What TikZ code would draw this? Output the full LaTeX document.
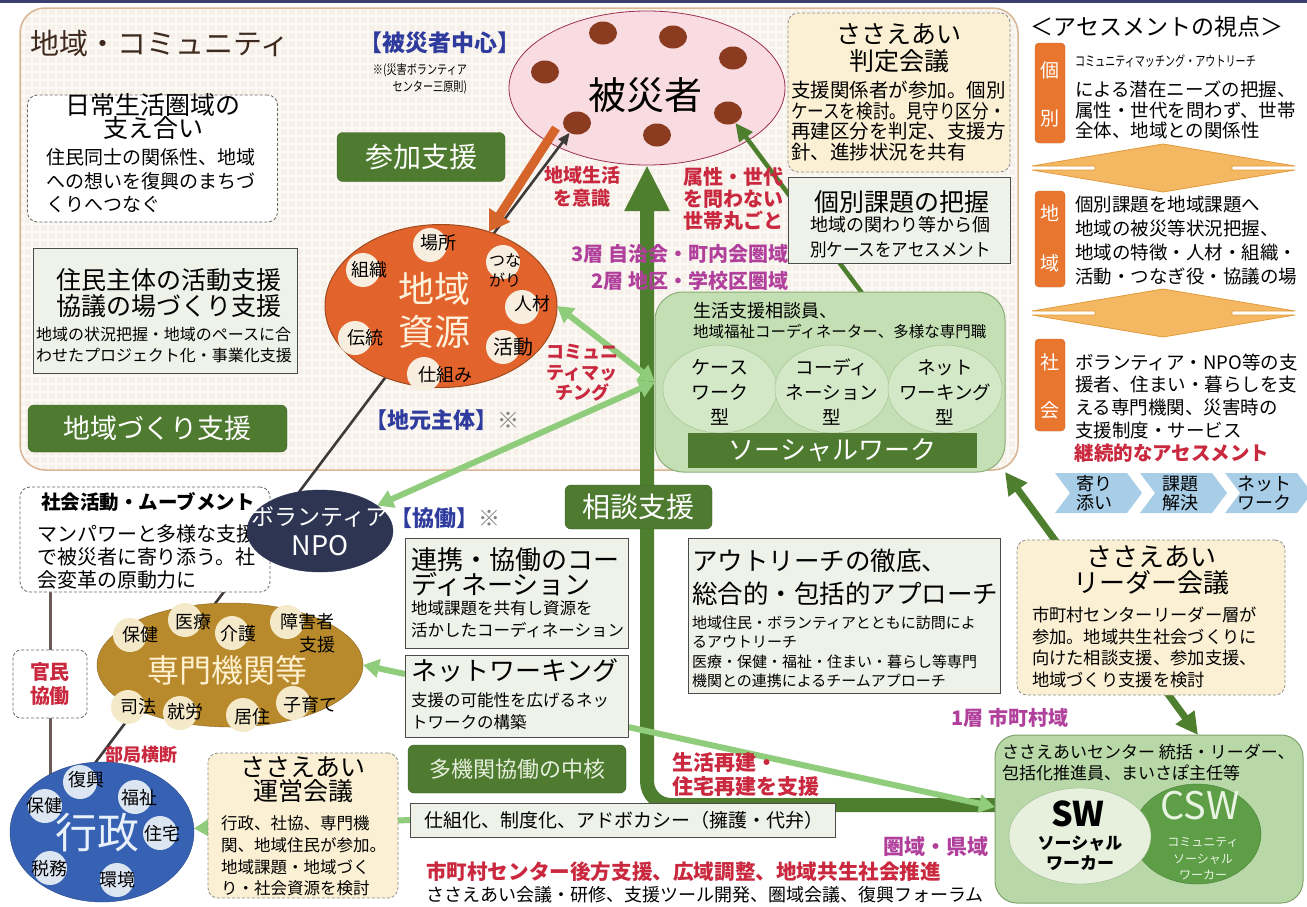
\documentclass[tikz,border=0pt]{standalone}
\usepackage{fontspec}
\usepackage{graphicx}
\setmainfont{Noto Sans CJK JP}
\usetikzlibrary{arrows.meta,shapes.geometric,calc}
\pgfdeclarelayer{back}\pgfdeclarelayer{bg}
\pgfsetlayers{back,bg,main}
\definecolor{navy}{HTML}{3B3F6E}
\definecolor{commF}{HTML}{F7F0E9}
\definecolor{commB}{HTML}{D9B594}
\definecolor{dgreen}{HTML}{4E7B2F}
\definecolor{gtext}{HTML}{E6EEDC}
\definecolor{lgreen}{HTML}{8FCC7B}
\definecolor{agreen}{HTML}{4E7F2E}
\definecolor{greyF}{HTML}{EEF2E9}
\definecolor{creamF}{HTML}{FBF0D3}
\definecolor{pinkF}{HTML}{F9DCE2}
\definecolor{hisaiB}{HTML}{9C3050}
\definecolor{dotC}{HTML}{8A3B20}
\definecolor{orangeF}{HTML}{E2632B}
\definecolor{shigenB}{HTML}{A04A1E}
\definecolor{shigenT}{HTML}{FFF2DC}
\definecolor{circF}{HTML}{F8EEDF}
\definecolor{npoF}{HTML}{2D3552}
\definecolor{senF}{HTML}{B98A2C}
\definecolor{senB}{HTML}{8A6420}
\definecolor{senC}{HTML}{F4E9C9}
\definecolor{senT}{HTML}{FFF1D0}
\definecolor{gyoF}{HTML}{3762B4}
\definecolor{gyoB}{HTML}{27488A}
\definecolor{gyoC}{HTML}{DCE5F2}
\definecolor{gyoT}{HTML}{E8F0FA}
\definecolor{swF}{HTML}{C3DFB3}
\definecolor{swB}{HTML}{8BAE78}
\definecolor{swcirc}{HTML}{D6EACB}
\definecolor{swcircB}{HTML}{9FBF8E}
\definecolor{swcF}{HTML}{B8D8A7}
\definecolor{swcB}{HTML}{7FA36D}
\definecolor{swlF}{HTML}{E6F0DD}
\definecolor{swlB}{HTML}{9AB68A}
\definecolor{cswF}{HTML}{5D9E47}
\definecolor{cswT}{HTML}{E9F3E2}
\definecolor{redT}{HTML}{C9283E}
\definecolor{purT}{HTML}{B0409B}
\definecolor{bluT}{HTML}{2F3C9E}
\definecolor{tabF}{HTML}{E8762E}
\definecolor{diaF}{HTML}{F5B862}
\definecolor{diaB}{HTML}{E29A3C}
\definecolor{chevF}{HTML}{A8CDE6}
\definecolor{lineC}{HTML}{3F3A3A}
\definecolor{orangeA}{HTML}{D6652C}
\definecolor{ttlC}{HTML}{3E2A1E}
\definecolor{vC}{HTML}{6B5B55}
\newcommand\fz[2]{\fontsize{#1}{#2}\selectfont}
\newcommand\hs[2]{\scalebox{#1}[1]{#2}}
\tikzset{
 every node/.style={inner sep=0pt,outer sep=0pt},
 gbox/.style={draw=dgreen!80!black, fill=dgreen, rounded corners=6pt, text=white},
 pbox/.style={draw=black!70, fill=greyF, line width=0.8pt},
 cbox/.style={draw=black!45, fill=creamF, densely dashed, rounded corners=10pt, line width=0.8pt},
 wbox/.style={draw=black!60, fill=white, densely dashed, rounded corners=10pt, line width=0.8pt},
 dotS/.style={ellipse, fill=dotC, minimum width=28pt, minimum height=23pt},
 bub/.style={circle, fill=#1, minimum size=34pt},
 lbl/.style={font={\fz{18}{20}}},
 tabS/.style={fill=tabF, draw=tabF!85!black, rounded corners=4pt, minimum width=30pt},
 tabT/.style={font={\fz{19}{20}}, text=white},
 blk/.style={draw=lineC, line width=2.6pt, -{Triangle[width=10pt,length=12pt]}},
 orA/.style={draw=orangeA, line width=9pt, -{Triangle[width=24pt,length=20pt]}},
 thinG/.style={draw=agreen, line width=4.5pt, -{Triangle[width=16pt,length=18pt]}},
 bigA/.style={draw=agreen, line width=14pt, rounded corners=24pt, -{Triangle[width=42pt,length=46pt]}},
 lg/.style={draw=lgreen, line width=6pt},
 lgT/.style={-{Triangle[width=18pt,length=16pt]}},
 lgTT/.style={{Triangle[width=18pt,length=16pt]}-{Triangle[width=18pt,length=16pt]}},
 agA/.style={draw=agreen, line width=7pt, {Triangle[width=22pt,length=22pt]}-{Triangle[width=22pt,length=22pt]}},
 vline/.style={draw=vC, line width=3pt},
}
\begin{document}
\begin{tikzpicture}[x=1pt,y=-1pt]
\useasboundingbox (0,0) rectangle (1307,906);
\begin{pgfonlayer}{back}
\fill[white] (0,0) rectangle (1307,906);
\fill[navy] (0,0) rectangle (1307,3);
\node[draw=commB, fill=commF, line width=1.5pt, rounded corners=25pt, minimum width=998pt, minimum height=462pt] (comm) at (519,239) {};
\begin{scope}
\clip[rounded corners=25pt] (21,9) rectangle (1017,469);
\draw[white, line width=2pt, opacity=0.6, step=8pt] (20,8) grid (1018,470);
\end{scope}
\node[ellipse, draw=hisaiB, fill=pinkF, line width=0.8pt, minimum width=276pt, minimum height=154pt] (hisai) at (647,88) {};
\foreach \n/\x/\y in {1/603/33,2/673/37,3/733/58,4/545/72,5/728/113,6/577/123,7/657/135}
  \node[dotS] (d\n) at (\x,\y) {};
\end{pgfonlayer}

% ---------- top ----------
\node[font={\fz{29}{32}}, text=ttlC] (ttl) at (160,43) {地域・コミュニティ};
\node[font={\fz{23}{26}\bfseries}, text=bluT] (hcen) at (440,43) {【被災者中心】};
\node[font={\fz{13}{17}}, align=right] (hnote) at (420,79) {\hs{0.78}{※(災害ボランティア}\\\hs{0.78}{センター三原則)}};
\node[font={\fz{38}{40}}] (hisaiT) at (645,95) {被災者};

\node[gbox, minimum width=168pt, minimum height=49pt, font={\fz{28}{30}}] (sanka) at (421,157) {参加支援};

\node[wbox, minimum width=250pt, minimum height=127pt] (nichi) at (152.5,158.5) {};
\node[align=center, font={\fz{25}{23}}] (nichiT) at (153,117) {日常生活圏域の\\支え合い};
\node[anchor=west, align=left, font={\fz{19}{23.5}}] (nichiB) at (46,181) {住民同士の関係性、地域\\への想いを復興のまちづ\\くりへつなぐ};

\node[pbox, minimum width=264pt, minimum height=125pt] (jumin) at (165,310.5) {};
\node[align=center, font={\fz{25}{26}}] (juminT) at (169,293) {住民主体の活動支援\\協議の場づくり支援};
\node[anchor=west, align=left, font={\fz{16}{21}}] (juminB) at (36,344.5) {地域の状況把握・地域のペースに合\\わせたプロジェクト化・事業化支援};

\node[gbox, minimum width=259pt, minimum height=47pt, font={\fz{27}{30}}] (zukuri) at (157.5,428.5) {地域づくり支援};

% 地域資源
\node[ellipse, draw=shigenB, fill=orangeF, line width=1pt, minimum width=232pt, minimum height=163pt] (shigen) at (441,306) {};
\node[bub=circF] (bBasho) at (430,245) {};
\node[bub=circF] (bSoshiki) at (363,270) {};
\node[bub=circF] (bTsuna) at (503,262) {};
\node[bub=circF] (bJinzai) at (522,307) {};
\node[bub=circF] (bDento) at (355,338) {};
\node[bub=circF] (bKatsu) at (503,347) {};
\node[bub=circF] (bShikumi) at (424,374) {};
\node[lbl] (tBasho) at (438,243) {場所};
\node[lbl] (tSoshiki) at (369,270) {組織};
\node[align=center, font={\fz{16}{20}}] (tTsuna) at (505,270) {つな\\がり};
\node[lbl] (tJinzai) at (532,304) {人材};
\node[lbl] (tDento) at (365,338) {伝統};
\node[font={\fz{20}{22}}] (tKatsu) at (513,347) {活動};
\node[lbl] (tShikumi) at (445,375) {仕組み};
\node[font={\fz{36}{43}}, align=center, text=shigenT] (shigenTx) at (434,310) {地域\\資源};
\node[font={\fz{22}{24}\bfseries}, text=bluT] (jimoto) at (442,420) {【地元主体】\textcolor{gray}{※}};

\node[anchor=east, font={\fz{20}{22}\bfseries}, text=purT] (sou3) at (788,254) {3層 自治会・町内会圏域};
\node[anchor=east, font={\fz{20}{22}\bfseries}, text=purT] (sou2) at (788,281) {2層 地区・学校区圏域};

% ソーシャルワーク
\node[draw=swB, fill=swF, rounded corners=28pt, line width=1pt, minimum width=350pt, minimum height=180pt] (swbox) at (830,382) {};
\node[anchor=west, font={\fz{18}{20}}] (swboxT1) at (693,311) {生活支援相談員、};
\node[anchor=west, font={\fz{15.5}{20}}] (swboxT2) at (693,332) {地域福祉コーディネーター、多様な専門職};
\node[ellipse, draw=swcircB, fill=swcirc, fill opacity=0.85, minimum width=114pt, minimum height=88pt] (cw) at (720,389) {};
\node[ellipse, draw=swcircB, fill=swcirc, fill opacity=0.85, minimum width=114pt, minimum height=88pt] (cd) at (832,389) {};
\node[ellipse, draw=swcircB, fill=swcirc, fill opacity=0.85, minimum width=114pt, minimum height=88pt] (cn) at (945,389) {};
\node[align=center, font={\fz{19}{25}}] (cwT) at (720,392) {ケース\\ワーク\\型};
\node[align=center, font={\fz{18.5}{25}}] (cdT) at (832,392) {コーディ\\ネーション\\型};
\node[align=center, font={\fz{18.5}{25}}] (cnT) at (945,392) {ネット\\ワーキング\\型};
\node[fill=dgreen, minimum width=289pt, minimum height=35pt, text=white, font={\fz{26}{28}}] (swbar) at (832.5,450.5) {ソーシャルワーク};

\node[align=center, font={\fz{18}{20.5}\bfseries}, text=redT] (cmT) at (582,373) {コミュニ\\ティマッ\\チング};
\node[align=center, font={\fz{19}{23}\bfseries}, text=redT] (ishiki) at (582,187) {地域生活\\を意識};
\node[anchor=west, align=left, font={\fz{20}{22}\bfseries}, text=redT] (setai) at (683,199) {属性・世代\\を問わない\\世帯丸ごと};

% 判定会議 / 個別課題
\node[cbox, minimum width=222pt, minimum height=159pt] (hantei) at (899,92.5) {};
\node[align=center, font={\fz{25}{27}}] (hanteiT) at (899,48) {ささえあい\\判定会議};
\node[anchor=west, align=left, font={\fz{19.5}{20.7}}] (hanteiB) at (791,121) {支援関係者が参加。個別\\\hs{0.85}{ケースを検討。見守り区分・}\\再建区分を判定、支援方\\針、進捗状況を共有};
\node[pbox, minimum width=222pt, minimum height=86pt] (kobetsu) at (899,220) {};
\node[font={\fz{25}{27}}] (kobetsuT) at (902,202) {個別課題の把握};
\node[anchor=west, align=left, font={\fz{18}{25}}] (kobetsuB) at (810,237) {地域の関わり等から個\\\hs{0.92}{別ケースをアセスメント}};

% アセスメント
\node[font={\fz{23}{25}}] (asT) at (1157,27) {＜アセスメントの視点＞};
\node[tabS, minimum height=100pt] (tab1) at (1050,93) {};
\node[tabS, minimum height=96pt] (tab2) at (1050,239) {};
\node[tabS, minimum height=92pt] (tab3) at (1050,385) {};
\node[tabT] (tab1a) at (1050,70) {個};
\node[tabT] (tab1b) at (1050,118) {別};
\node[tabT] (tab2a) at (1050,213) {地};
\node[tabT] (tab2b) at (1050,263) {域};
\node[tabT] (tab3a) at (1050,362) {社};
\node[tabT] (tab3b) at (1050,410) {会};
\node[anchor=west, font={\fz{14}{16}}] (as1a) at (1075,61) {\hs{0.72}{コミュニティマッチング・アウトリーチ}};
\node[anchor=west, align=left, font={\fz{18.5}{20.5}}] (as1b) at (1075,110) {による潜在ニーズの把握、\\属性・世代を問わず、世帯\\全体、地域との関係性};
\node[anchor=west, align=left, font={\fz{18.5}{24}}] (as2) at (1075,241) {個別課題を地域課題へ\\地域の被災等状況把握、\\地域の特徴・人材・組織・\\活動・つなぎ役・協議の場};
\node[anchor=west, align=left, font={\fz{18.5}{22.7}}] (as3) at (1075,396) {ボランティア・NPO等の支\\援者、住まい・暮らしを支\\える専門機関、災害時の\\支援制度・サービス};
\foreach \c in {168,313}
  \filldraw[fill=diaF, draw=diaB, line width=0.8pt] (1032,\c-2) -- (1163,\c-24) -- (1295,\c-2) -- (1232,\c-2) -- (1232,\c+2) -- (1295,\c+2) -- (1163,\c+24) -- (1032,\c+2) -- (1095,\c+2) -- (1095,\c-2) -- cycle;
\node[font={\fz{19.5}{22}\bfseries}, text=redT] (keizoku) at (1172,453) {継続的なアセスメント};
\foreach \x in {1055,1140,1225}
  \fill[chevF] (\x,473) -- (\x+72,473) -- (\x+87,493) -- (\x+72,513) -- (\x,513) -- (\x+15,493) -- cycle;
\node[align=center, font={\fz{18}{19}}] (chev1) at (1094,493) {寄り\\添い};
\node[align=center, font={\fz{18}{19}}] (chev2) at (1180,493) {課題\\解決};
\node[align=center, font={\fz{18}{19}}] (chev3) at (1264,493) {ネット\\ワーク};

% 社会活動 / NPO
\node[wbox, minimum width=250pt, minimum height=105pt] (shakai) at (145,539.5) {};
\node[font={\fz{19.5}{22}\bfseries}] (shakaiT) at (148,502) {社会活動・ムーブメント};
\node[anchor=west, align=left, font={\fz{20}{23}}] (shakaiB) at (37,557) {マンパワーと多様な支援\\で被災者に寄り添う。社\\会変革の原動力に};
\node[ellipse, fill=npoF, draw=npoF, minimum width=146pt, minimum height=82pt] (npo) at (320,531) {};
\node[align=center, text=white, font={\fz{23}{30}}] (npoT) at (320,531) {ボランティア\\{\fz{27}{30}NPO}};
\node[font={\fz{22}{24}\bfseries}, text=bluT] (kyodo) at (445,518) {【協働】\textcolor{gray}{※}};

% 専門機関等
\node[ellipse, fill=senF, draw=senB, minimum width=266pt, minimum height=124pt] (senmon) at (230,665) {};
\node[bub=senC] (sb1) at (130,635) {};
\node[bub=senC] (sb2) at (185,620) {};
\node[bub=senC] (sb3) at (232,633) {};
\node[bub=senC] (sb4) at (287,622) {};
\node[bub=senC] (sb5) at (128,707) {};
\node[bub=senC] (sb6) at (180,713) {};
\node[bub=senC] (sb7) at (243,715) {};
\node[bub=senC] (sb8) at (293,703) {};
\node[lbl] (st1) at (140,635) {保健};
\node[lbl] (st2) at (193,622) {医療};
\node[lbl] (st3) at (238,634) {介護};
\node[lbl] (st4) at (307,622) {障害者};
\node[lbl] (st4b) at (317,645) {支援};
\node[lbl] (st5) at (138,707) {司法};
\node[lbl] (st6) at (185,712) {就労};
\node[lbl] (st7) at (252,717) {居住};
\node[lbl] (st8) at (310,705) {子育て};
\node[font={\fz{32}{34}}, text=senT] (senmonT) at (227,670) {専門機関等};

\node[wbox, rounded corners=8pt, minimum width=74pt, minimum height=68pt] (kanmin) at (50,684) {};
\node[align=center, font={\fz{20}{24}\bfseries}, text=redT] (kanminT) at (50,684) {官民\\協働};
\node[font={\fz{18}{20}\bfseries}, text=redT] (bukyoku) at (141,755) {部局横断};

% 行政
\node[ellipse, fill=gyoF, draw=gyoB, minimum width=184pt, minimum height=140pt] (gyosei) at (102,832) {};
\node[bub=gyoC] (gb1) at (80,782) {};
\node[bub=gyoC] (gb2) at (135,797) {};
\node[bub=gyoC] (gb3) at (45,806) {};
\node[bub=gyoC] (gb4) at (160,833) {};
\node[bub=gyoC] (gb5) at (50,868) {};
\node[bub=gyoC] (gb6) at (117,880) {};
\node[lbl] (gt1) at (86,780) {復興};
\node[lbl] (gt2) at (139,798) {福祉};
\node[lbl] (gt3) at (45,806) {保健};
\node[lbl] (gt4) at (162,834) {住宅};
\node[lbl] (gt5) at (49,869) {税務};
\node[lbl] (gt6) at (117,880) {環境};
\node[font={\fz{42}{44}}, text=gyoT] (gyoseiT) at (97,833) {行政};

\node[cbox, minimum width=190pt, minimum height=145pt] (unei) at (303,825.5) {};
\node[align=center, font={\fz{25}{24}}] (uneiT) at (303,780) {ささえあい\\運営会議};
\node[anchor=west, align=left, font={\fz{16.5}{21.7}}] (uneiB) at (221,856) {行政、社協、専門機\\関、地域住民が参加。\\地域課題・地域づく\\り・社会資源を検討};

% middle
\node[gbox, minimum width=147pt, minimum height=44pt, font={\fz{28}{30}}] (sodan) at (638.5,507) {相談支援};
\node[pbox, minimum width=223pt, minimum height=110pt] (renkei) at (516.5,593) {};
\node[anchor=west, align=left, font={\fz{26}{25}}] (renkeiT) at (411,572) {連携・協働のコー\\ディネーション};
\node[anchor=west, align=left, font={\fz{16.5}{22}}] (renkeiB) at (411,619) {地域課題を共有し資源を\\活かしたコーディネーション};
\node[pbox, minimum width=223pt, minimum height=82pt] (network) at (516.5,696) {};
\node[anchor=west, font={\fz{26}{28}}] (networkT) at (411,671) {ネットワーキング};
\node[anchor=west, align=left, font={\fz{16.5}{22}}] (networkB) at (411,711) {支援の可能性を広げるネッ\\トワークの構築};
\node[gbox, minimum width=218pt, minimum height=48pt, font={\fz{22}{24}}, text=gtext] (takikan) at (517,769) {多機関協働の中核};
\node[pbox, minimum width=425pt, minimum height=34pt] (shikumi) at (622.5,820) {};
\node[anchor=west, font={\fz{19}{21}}] (shikumiT) at (424,820) {仕組化、制度化、アドボカシー（擁護・代弁）};

\node[pbox, minimum width=312pt, minimum height=155pt] (outreach) at (844,615.5) {};
\node[anchor=west, align=left, font={\fz{25.5}{33}}] (outT) at (692,577) {アウトリーチの徹底、\\総合的・包括的アプローチ};
\node[anchor=west, align=left, font={\fz{15}{19.5}}] (outB) at (692,652) {地域住民・ボランティアとともに訪問によ\\るアウトリーチ\\医療・保健・福祉・住まい・暮らし等専門\\機関との連携によるチームアプローチ};

\node[anchor=east, font={\fz{20}{22}\bfseries}, text=purT] (sou1) at (1068,718) {1層 市町村域};
\node[cbox, minimum width=268pt, minimum height=155pt] (leader) at (1151,617.5) {};
\node[align=center, font={\fz{26}{26}}] (leaderT) at (1151,570) {ささえあい\\リーダー会議};
\node[anchor=west, align=left, font={\fz{17.3}{21.7}}] (leaderB) at (1032,647.5) {市町村センターリーダー層が\\参加。地域共生社会づくりに\\向けた相談支援、参加支援、\\地域づくり支援を検討};

\node[draw=swcB, fill=swcF, rounded corners=22pt, line width=1pt, minimum width=308pt, minimum height=168pt] (swc) at (1149,819) {};
\node[ellipse, fill=cswF, draw=cswF!80!black, minimum width=128pt, minimum height=100pt] (csw) at (1197,834) {};
\node[ellipse, fill=swlF, draw=swlB, minimum width=142pt, minimum height=96pt] (sw) at (1080,836) {};
\node[anchor=west, align=left, font={\fz{17}{21}}] (swcT) at (1002,762) {ささえあいセンター 統括・リーダー、\\包括化推進員、まいさぽ主任等};
\node[font={\fz{34}{36}\bfseries}] (swT1) at (1078,814) {SW};
\node[align=center, font={\fz{17}{20}\bfseries}] (swT2) at (1080,853) {ソーシャル\\ワーカー};
\node[font={\fz{38}{40}}, text=cswT] (cswT1) at (1200,806) {CSW};
\node[align=center, font={\fz{12}{16.5}}, text=cswT] (cswT2) at (1203,859) {コミュニティ\\ソーシャル\\ワーカー};

\node[anchor=west, align=left, font={\fz{21}{24}\bfseries}, text=redT] (saiken) at (672,775) {生活再建・\\住宅再建を支援};
\node[anchor=east, font={\fz{21}{23}\bfseries}, text=purT] (kenki) at (988,847) {圏域・県域};
\node[anchor=west, font={\fz{20.6}{23}\bfseries}, text=redT] (koho) at (426,872) {市町村センター後方支援、広域調整、地域共生社会推進};
\node[anchor=west, font={\fz{18}{20}}] (kaigi) at (426,895) {ささえあい会議・研修、支援ツール開発、圏域会議、復興フォーラム};

% ---------- connectors ----------
\coordinate (gyTop) at (86,775);
\coordinate (orS) at (556,128);
\coordinate (swTop) at (862,293);
\coordinate (gyL) at (50,778);
\begin{pgfonlayer}{bg}
\draw[blk] (gyTop) -- (d6);
\draw[orA] (orS) -- (shigen);
\draw[thinG] (swTop) -- (d5);
\draw[bigA] ($(swc.west)+(0,-14)$) -| (hisai.south);
\draw[lg, lgTT] (swbox.west) -- (shigen.east);
\draw[lg, lgTT] (swbox.west) -- (npo);
\draw[lg, lgT] ($(network.south east)+(0,-10)$) -- ($(swc.west)+(0,-12)$);
\draw[lg, lgT] ($(network.west)+(0,-22)$) -- (senmon.east);
\draw[lg, lgT] (shikumi.west) -- (gyosei);
\draw[agA] (swbox.south east) -- ($(swc.north)+(49,0)$);
\draw[vline] (shakai.south -| kanmin.north) -- (kanmin.north);
\draw[vline] (kanmin.south) -- (gyL);
\end{pgfonlayer}
\end{tikzpicture}
\end{document}
